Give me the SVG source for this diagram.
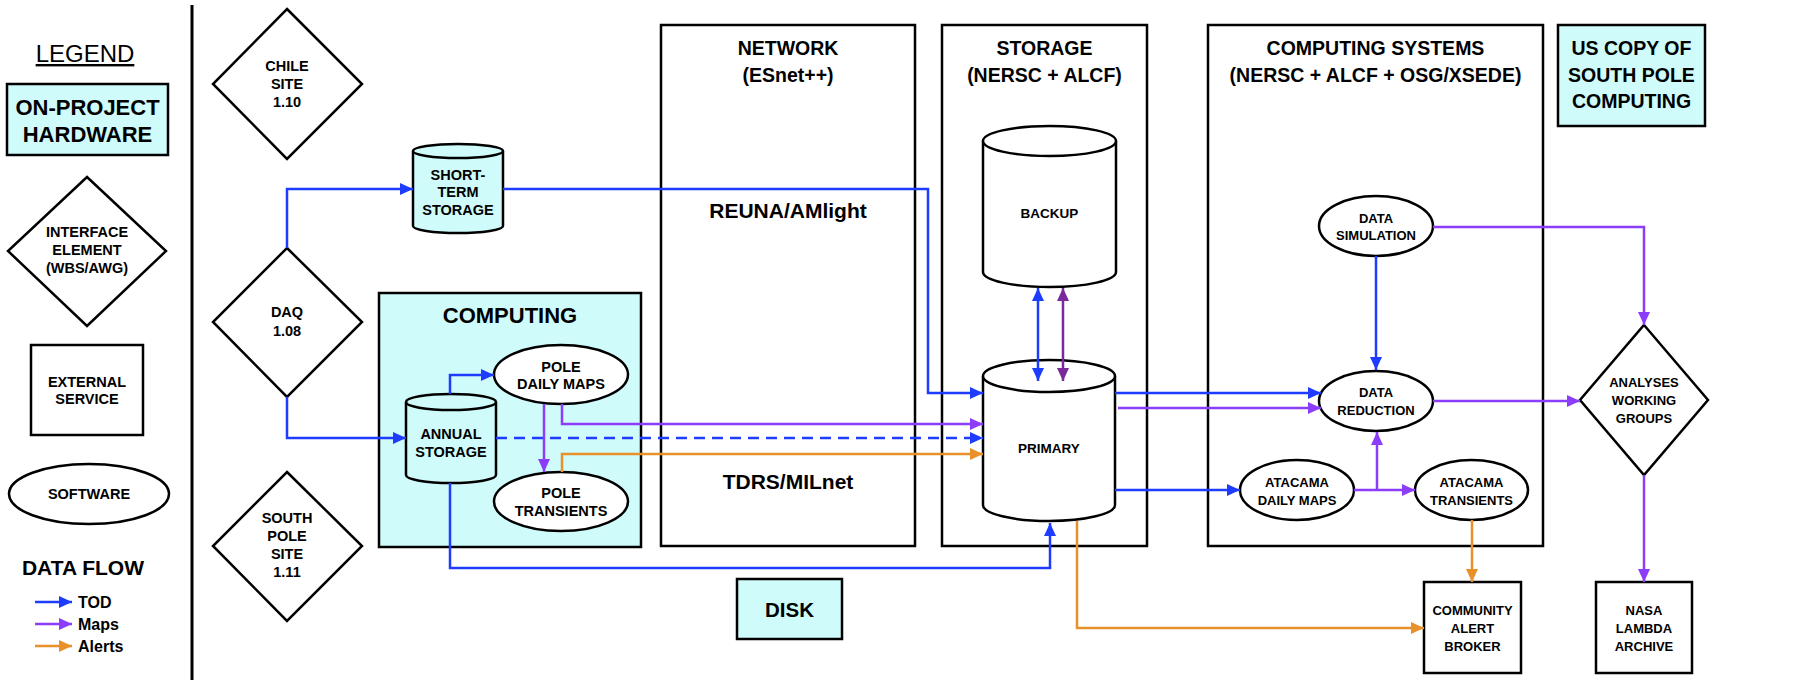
<svg xmlns="http://www.w3.org/2000/svg" width="1801" height="680" viewBox="0 0 1801 680">
<style>
text{font-family:"Liberation Sans",Arial,sans-serif;font-weight:bold;fill:#000;text-anchor:middle}
.sh{fill:none;stroke:#000;stroke-width:2.5}
.hw{fill:#cffbfb;stroke:#000;stroke-width:2.5}
.wf{fill:#fff;stroke:#000;stroke-width:2.5}
.s{font-size:14.5px}
.r{font-size:13px}
.h{font-size:19.5px}
.c{fill:none;stroke-width:2.5}
.b{stroke:#1e3cff}
.p{stroke:#8b3dfa}
.o{stroke:#e8912a}
.dp{stroke:#7a2a9a}
</style>
<defs>
<marker id="ab" markerUnits="userSpaceOnUse" markerWidth="14" markerHeight="12" refX="13" refY="6" orient="auto-start-reverse"><path d="M0,0 L13,6 L0,12 z" fill="#1e3cff"/></marker>
<marker id="ap" markerUnits="userSpaceOnUse" markerWidth="14" markerHeight="12" refX="13" refY="6" orient="auto-start-reverse"><path d="M0,0 L13,6 L0,12 z" fill="#8b3dfa"/></marker>
<marker id="ao" markerUnits="userSpaceOnUse" markerWidth="14" markerHeight="12" refX="13" refY="6" orient="auto-start-reverse"><path d="M0,0 L13,6 L0,12 z" fill="#e8912a"/></marker>
<marker id="ad" markerUnits="userSpaceOnUse" markerWidth="14" markerHeight="12" refX="13" refY="6" orient="auto-start-reverse"><path d="M0,0 L13,6 L0,12 z" fill="#7a2a9a"/></marker>
</defs>
<rect width="1801" height="680" fill="#fff"/>

<g id="legend">
<text x="85" y="62" style="font-weight:normal;font-size:24px;text-decoration:underline">LEGEND</text>
<rect class="hw" x="7" y="84" width="161" height="71"/>
<text x="87.5" y="115" style="font-size:22px">ON-PROJECT</text>
<text x="87.5" y="142" style="font-size:22px">HARDWARE</text>
<polygon class="wf" points="87,177 166,251 87,326 8,251"/>
<text class="s" x="87" y="237">INTERFACE</text>
<text class="s" x="87" y="255">ELEMENT</text>
<text class="s" x="87" y="273">(WBS/AWG)</text>
<rect class="wf" x="31" y="345" width="112" height="90"/>
<text class="s" x="87" y="387">EXTERNAL</text>
<text class="s" x="87" y="404">SERVICE</text>
<ellipse class="wf" cx="89" cy="494" rx="80" ry="30"/>
<text class="s" x="89" y="499">SOFTWARE</text>
<text x="83" y="575" style="font-size:21px">DATA FLOW</text>
<path class="c b" d="M35,602 H72" marker-end="url(#ab)"/>
<path class="c p" d="M35,624 H72" marker-end="url(#ap)"/>
<path class="c o" d="M35,646 H72" marker-end="url(#ao)"/>
<text x="78" y="608" style="font-size:16px;text-anchor:start">TOD</text>
<text x="78" y="630" style="font-size:16px;text-anchor:start">Maps</text>
<text x="78" y="652" style="font-size:16px;text-anchor:start">Alerts</text>
<line x1="192" y1="5" x2="192" y2="680" stroke="#000" stroke-width="3"/>
</g>

<g id="chile-site">
<polygon class="wf" points="287,9 362,84 287,159 213,84"/>
<text class="s" x="287" y="71">CHILE</text>
<text class="s" x="287" y="89">SITE</text>
<text class="s" x="287" y="107">1.10</text>
</g>
<g id="daq">
<polygon class="wf" points="287,248 362,322 287,397 213,322"/>
<text class="s" x="287" y="317">DAQ</text>
<text class="s" x="287" y="336">1.08</text>
</g>
<g id="south-pole-site">
<polygon class="wf" points="287,472 362,546 287,621 213,546"/>
<text class="s" x="287" y="523">SOUTH</text>
<text class="s" x="287" y="541">POLE</text>
<text class="s" x="287" y="559">SITE</text>
<text class="s" x="287" y="577">1.11</text>
</g>
<g id="short-term-storage">
<path class="hw" d="M413,151 V226 A45,7 0 0 0 503,226 V151"/>
<ellipse class="hw" cx="458" cy="151" rx="45" ry="7"/>
<text class="s" x="458" y="180">SHORT-</text>
<text class="s" x="458" y="197">TERM</text>
<text class="s" x="458" y="215">STORAGE</text>
</g>

<g id="computing">
<rect class="hw" x="379" y="293" width="262" height="254"/>
<text x="510" y="323" style="font-size:22px">COMPUTING</text>
</g>
<g id="annual-storage">
<path class="hw" d="M406,402 V475 A45,8 0 0 0 496,475 V402"/>
<ellipse class="hw" cx="451" cy="402" rx="45" ry="8"/>
<text class="s" x="451" y="439">ANNUAL</text>
<text class="s" x="451" y="457">STORAGE</text>
</g>
<g id="pole-daily-maps">
<ellipse class="wf" cx="561" cy="374.5" rx="67" ry="29.5"/>
<text class="s" x="561" y="372">POLE</text>
<text class="s" x="561" y="389">DAILY MAPS</text>
</g>
<g id="pole-transients">
<ellipse class="wf" cx="561" cy="501.5" rx="67" ry="29.5"/>
<text class="s" x="561" y="498">POLE</text>
<text class="s" x="561" y="516">TRANSIENTS</text>
</g>

<g id="network">
<rect class="sh" x="661" y="25" width="254" height="521"/>
<text class="h" x="788" y="55">NETWORK</text>
<text class="h" x="788" y="82">(ESnet++)</text>
<text x="788" y="218" style="font-size:21px">REUNA/AMlight</text>
<text x="788" y="489" style="font-size:21px">TDRS/MILnet</text>
</g>
<g id="disk">
<rect class="hw" x="737" y="579" width="105" height="60"/>
<text x="789.5" y="617" style="font-size:20.5px">DISK</text>
</g>

<g id="storage">
<rect class="sh" x="942" y="25" width="205" height="521"/>
<text class="h" x="1044.5" y="55">STORAGE</text>
<text class="h" x="1044.5" y="82">(NERSC + ALCF)</text>
</g>
<g id="backup">
<path class="wf" d="M983,141 V272 A66.5,15 0 0 0 1116,272 V141"/>
<ellipse class="wf" cx="1049.5" cy="141" rx="66.5" ry="15"/>
<text x="1049.5" y="218" style="font-size:13.5px">BACKUP</text>
</g>
<g id="primary">
<path class="wf" d="M983,376 V505 A66,16 0 0 0 1115,505 V376"/>
<ellipse class="wf" cx="1049" cy="376" rx="66" ry="16"/>
<text x="1049" y="453" style="font-size:13.5px">PRIMARY</text>
</g>

<g id="computing-systems">
<rect class="sh" x="1208" y="25" width="335" height="521"/>
<text class="h" x="1375.5" y="55">COMPUTING SYSTEMS</text>
<text class="h" x="1375.5" y="82">(NERSC + ALCF + OSG/XSEDE)</text>
</g>
<g id="data-simulation">
<ellipse class="wf" cx="1376" cy="226" rx="57" ry="30"/>
<text class="r" x="1376" y="223">DATA</text>
<text class="r" x="1376" y="240">SIMULATION</text>
</g>
<g id="data-reduction">
<ellipse class="wf" cx="1376" cy="401" rx="57" ry="30"/>
<text class="r" x="1376" y="397">DATA</text>
<text class="r" x="1376" y="415">REDUCTION</text>
</g>
<g id="atacama-daily-maps">
<ellipse class="wf" cx="1297" cy="490" rx="57" ry="30"/>
<text class="r" x="1297" y="487">ATACAMA</text>
<text class="r" x="1297" y="505">DAILY MAPS</text>
</g>
<g id="atacama-transients">
<ellipse class="wf" cx="1471.5" cy="490" rx="56.5" ry="30"/>
<text class="r" x="1471.5" y="487">ATACAMA</text>
<text class="r" x="1471.5" y="505">TRANSIENTS</text>
</g>

<g id="us-copy">
<rect class="hw" x="1558" y="25" width="147" height="101"/>
<text class="h" x="1631.5" y="55">US COPY OF</text>
<text class="h" x="1631.5" y="82">SOUTH POLE</text>
<text class="h" x="1631.5" y="108">COMPUTING</text>
</g>
<g id="analyses-working-groups">
<polygon class="wf" points="1644,325 1708,400 1644,475 1580,400"/>
<text class="r" x="1644" y="387">ANALYSES</text>
<text class="r" x="1644" y="405">WORKING</text>
<text class="r" x="1644" y="423">GROUPS</text>
</g>
<g id="community-alert-broker">
<rect class="wf" x="1424" y="582" width="97" height="91"/>
<text class="r" x="1472.5" y="615">COMMUNITY</text>
<text class="r" x="1472.5" y="633">ALERT</text>
<text class="r" x="1472.5" y="651">BROKER</text>
</g>
<g id="nasa-lambda-archive">
<rect class="wf" x="1596" y="582" width="96" height="91"/>
<text class="r" x="1644" y="615">NASA</text>
<text class="r" x="1644" y="633">LAMBDA</text>
<text class="r" x="1644" y="651">ARCHIVE</text>
</g>

<g id="connectors">
<path class="c b" d="M287,248 V189 H413" marker-end="url(#ab)"/>
<path class="c b" d="M503,189 H928 V393 H983" marker-end="url(#ab)"/>
<path class="c b" d="M287,397 V438 H406" marker-end="url(#ab)"/>
<path class="c b" d="M450,394 V375 H494" marker-end="url(#ab)"/>
<path class="c b" d="M496,438 H983" stroke-dasharray="11,7" marker-end="url(#ab)"/>
<path class="c b" d="M450,483 V568 H1050 V523" marker-end="url(#ab)"/>
<path class="c b" d="M1038,288 V381" marker-start="url(#ab)" marker-end="url(#ab)"/>
<path class="c dp" d="M1063,288 V381" marker-start="url(#ad)" marker-end="url(#ad)"/>
<path class="c b" d="M1115,393 H1321" marker-end="url(#ab)"/>
<path class="c b" d="M1115,490 H1240" marker-end="url(#ab)"/>
<path class="c b" d="M1376,256 V370" marker-end="url(#ab)"/>
<path class="c p" d="M544,404 V472" marker-end="url(#ap)"/>
<path class="c p" d="M562,404 V424 H983" marker-end="url(#ap)"/>
<path class="c p" d="M1118,408 H1321" marker-end="url(#ap)"/>
<path class="c p" d="M1433,227 H1644 V325" marker-end="url(#ap)"/>
<path class="c p" d="M1433,401 H1580" marker-end="url(#ap)"/>
<path class="c p" d="M1354,490 H1415" marker-end="url(#ap)"/>
<path class="c p" d="M1377,490 V432" marker-end="url(#ap)"/>
<path class="c p" d="M1644,475 V582" marker-end="url(#ap)"/>
<path class="c o" d="M562,472 V454 H983" marker-end="url(#ao)"/>
<path class="c o" d="M1077,521 V628 H1424" marker-end="url(#ao)"/>
<path class="c o" d="M1472,520 V582" marker-end="url(#ao)"/>
</g>
</svg>
